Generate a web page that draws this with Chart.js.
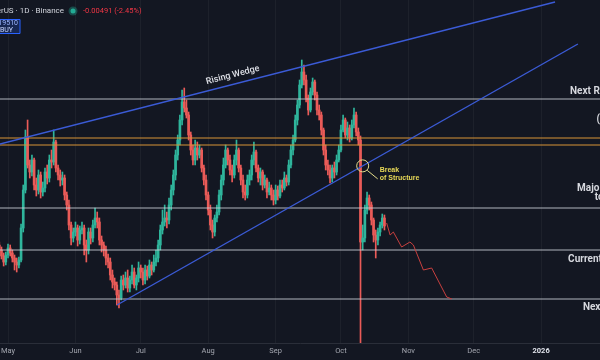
<!DOCTYPE html>
<html>

<head>
  <meta charset="utf-8" />
  <title>Dogecoin / TetherUS 1D</title>
  <script src="https://cdn.jsdelivr.net/npm/chart.js"></script>
  <style>
    html, body { margin: 0; padding: 0; background: #131722; }
  </style>
</head>

<body>
  <canvas id="chart" width="600" height="360"></canvas>

  <script type="text/javascript">

    // one candle per day, day 0 = 1 May 2025 (first candle is 27 Apr)
    var firstDay = -4;

    var opens = [
      0.155, 0.150, 0.144, 0.138, 0.145, 0.152, 0.147, 0.142, 0.138, 0.135,
      0.140, 0.172, 0.210, 0.263, 0.235, 0.228, 0.240, 0.215, 0.210, 0.225,
      0.208, 0.212, 0.228, 0.222, 0.240, 0.238, 0.258, 0.232, 0.225, 0.220,
      0.222, 0.205, 0.195, 0.175, 0.162, 0.168, 0.172, 0.160, 0.170, 0.172,
      0.155, 0.150, 0.168, 0.162, 0.175, 0.182, 0.178, 0.160, 0.155, 0.150,
      0.142, 0.138, 0.125, 0.118, 0.115, 0.105, 0.102, 0.120, 0.115, 0.122,
      0.112, 0.120, 0.128, 0.115, 0.122, 0.132, 0.128, 0.120, 0.130, 0.124,
      0.135, 0.130, 0.138, 0.142, 0.155, 0.170, 0.178, 0.182, 0.180, 0.195,
      0.210, 0.225, 0.245, 0.260, 0.280, 0.298, 0.292, 0.285, 0.265, 0.250,
      0.240, 0.252, 0.245, 0.250, 0.232, 0.220, 0.205, 0.190, 0.175, 0.168,
      0.182, 0.188, 0.205, 0.220, 0.235, 0.250, 0.240, 0.230, 0.225, 0.240,
      0.250, 0.232, 0.220, 0.208, 0.205, 0.220, 0.225, 0.240, 0.248, 0.232,
      0.222, 0.228, 0.215, 0.220, 0.208, 0.212, 0.205, 0.200, 0.210, 0.204,
      0.215, 0.212, 0.222, 0.218, 0.235, 0.250, 0.260, 0.280, 0.295, 0.315,
      0.328, 0.320, 0.302, 0.290, 0.308, 0.318, 0.305, 0.290, 0.285, 0.270,
      0.250, 0.235, 0.230, 0.222, 0.232, 0.228, 0.240, 0.250, 0.270, 0.280,
      0.265, 0.272, 0.262, 0.275, 0.285, 0.268, 0.260, 0.158, 0.162, 0.190,
      0.202, 0.195, 0.180, 0.165, 0.160, 0.168, 0.175, 0.182
    ];
    var highs = [
      0.158, 0.153, 0.147, 0.148, 0.156, 0.155, 0.150, 0.145, 0.142, 0.143,
      0.176, 0.215, 0.270, 0.280, 0.240, 0.245, 0.242, 0.222, 0.230, 0.228,
      0.218, 0.232, 0.235, 0.245, 0.250, 0.270, 0.260, 0.235, 0.230, 0.228,
      0.225, 0.208, 0.200, 0.178, 0.172, 0.178, 0.175, 0.174, 0.178, 0.175,
      0.160, 0.172, 0.172, 0.180, 0.192, 0.188, 0.182, 0.164, 0.158, 0.154,
      0.146, 0.142, 0.130, 0.122, 0.118, 0.110, 0.124, 0.125, 0.128, 0.130,
      0.124, 0.135, 0.132, 0.125, 0.138, 0.135, 0.132, 0.135, 0.134, 0.140,
      0.138, 0.145, 0.150, 0.160, 0.175, 0.190, 0.195, 0.188, 0.202, 0.215,
      0.230, 0.250, 0.265, 0.285, 0.310, 0.312, 0.300, 0.288, 0.268, 0.255,
      0.260, 0.258, 0.255, 0.252, 0.235, 0.225, 0.208, 0.195, 0.180, 0.185,
      0.195, 0.210, 0.225, 0.242, 0.255, 0.252, 0.245, 0.235, 0.245, 0.260,
      0.252, 0.235, 0.225, 0.215, 0.225, 0.230, 0.245, 0.258, 0.250, 0.235,
      0.232, 0.230, 0.225, 0.222, 0.218, 0.215, 0.210, 0.215, 0.214, 0.220,
      0.220, 0.228, 0.225, 0.240, 0.255, 0.265, 0.285, 0.300, 0.320, 0.340,
      0.335, 0.325, 0.305, 0.312, 0.322, 0.320, 0.308, 0.295, 0.288, 0.272,
      0.255, 0.240, 0.235, 0.235, 0.238, 0.245, 0.255, 0.275, 0.285, 0.282,
      0.278, 0.275, 0.280, 0.292, 0.288, 0.272, 0.264, 0.175, 0.195, 0.208,
      0.205, 0.198, 0.182, 0.170, 0.172, 0.178, 0.186, 0.185
    ];
    var lows = [
      0.146, 0.141, 0.134, 0.135, 0.142, 0.144, 0.138, 0.130, 0.128, 0.132,
      0.138, 0.168, 0.207, 0.232, 0.222, 0.224, 0.210, 0.204, 0.206, 0.202,
      0.204, 0.208, 0.216, 0.218, 0.232, 0.235, 0.228, 0.220, 0.214, 0.215,
      0.200, 0.190, 0.170, 0.155, 0.158, 0.164, 0.154, 0.156, 0.166, 0.145,
      0.138, 0.146, 0.156, 0.158, 0.172, 0.172, 0.155, 0.148, 0.144, 0.135,
      0.132, 0.120, 0.112, 0.110, 0.095, 0.092, 0.100, 0.110, 0.112, 0.108,
      0.108, 0.116, 0.112, 0.110, 0.118, 0.122, 0.115, 0.116, 0.120, 0.122,
      0.125, 0.128, 0.134, 0.138, 0.150, 0.166, 0.174, 0.172, 0.176, 0.190,
      0.205, 0.220, 0.240, 0.255, 0.275, 0.288, 0.282, 0.260, 0.245, 0.235,
      0.235, 0.240, 0.242, 0.228, 0.215, 0.200, 0.185, 0.170, 0.162, 0.164,
      0.178, 0.185, 0.200, 0.215, 0.232, 0.235, 0.225, 0.218, 0.222, 0.235,
      0.228, 0.215, 0.202, 0.200, 0.202, 0.215, 0.220, 0.235, 0.228, 0.218,
      0.215, 0.210, 0.212, 0.202, 0.205, 0.200, 0.195, 0.196, 0.200, 0.202,
      0.208, 0.210, 0.214, 0.215, 0.232, 0.245, 0.258, 0.275, 0.292, 0.312,
      0.315, 0.298, 0.285, 0.288, 0.305, 0.300, 0.285, 0.280, 0.265, 0.245,
      0.230, 0.225, 0.217, 0.218, 0.222, 0.225, 0.238, 0.248, 0.268, 0.262,
      0.260, 0.258, 0.260, 0.272, 0.264, 0.255, 0.030, 0.150, 0.158, 0.186,
      0.190, 0.175, 0.158, 0.142, 0.155, 0.164, 0.172, 0.170
    ];
    var closes = [
      0.150, 0.144, 0.138, 0.145, 0.152, 0.147, 0.142, 0.138, 0.135, 0.140,
      0.172, 0.210, 0.263, 0.235, 0.228, 0.240, 0.215, 0.210, 0.225, 0.208,
      0.212, 0.228, 0.222, 0.240, 0.238, 0.258, 0.232, 0.225, 0.220, 0.222,
      0.205, 0.195, 0.175, 0.162, 0.168, 0.172, 0.160, 0.170, 0.172, 0.155,
      0.150, 0.168, 0.162, 0.175, 0.182, 0.178, 0.160, 0.155, 0.150, 0.142,
      0.138, 0.125, 0.118, 0.115, 0.105, 0.102, 0.120, 0.115, 0.122, 0.112,
      0.120, 0.128, 0.115, 0.122, 0.132, 0.128, 0.120, 0.130, 0.124, 0.135,
      0.130, 0.138, 0.142, 0.155, 0.170, 0.178, 0.182, 0.180, 0.195, 0.210,
      0.225, 0.245, 0.260, 0.280, 0.298, 0.292, 0.285, 0.265, 0.250, 0.240,
      0.252, 0.245, 0.250, 0.232, 0.220, 0.205, 0.190, 0.175, 0.168, 0.182,
      0.188, 0.205, 0.220, 0.235, 0.250, 0.240, 0.230, 0.225, 0.240, 0.250,
      0.232, 0.220, 0.208, 0.205, 0.220, 0.225, 0.240, 0.248, 0.232, 0.222,
      0.228, 0.215, 0.220, 0.208, 0.212, 0.205, 0.200, 0.210, 0.204, 0.215,
      0.212, 0.222, 0.218, 0.235, 0.250, 0.260, 0.280, 0.295, 0.315, 0.328,
      0.320, 0.302, 0.290, 0.308, 0.318, 0.305, 0.290, 0.285, 0.270, 0.250,
      0.235, 0.230, 0.222, 0.232, 0.228, 0.240, 0.250, 0.270, 0.280, 0.265,
      0.272, 0.262, 0.275, 0.285, 0.268, 0.260, 0.158, 0.162, 0.190, 0.202,
      0.195, 0.180, 0.165, 0.160, 0.168, 0.175, 0.182, 0.174
    ];

    // time axis labels (day number of the 1st of each month)
    var monthDays = [0, 31, 61, 92, 123, 153, 184, 214, 245];
    var monthLabels = ['May', 'Jun', 'Jul', 'Aug', 'Sep', 'Oct', 'Nov', 'Dec', '2026'];

    // horizontal levels drawn on the chart
    var whiteLevels = [0.301, 0.192, 0.150, 0.101];
    var orangeLevels = [0.262, 0.255];

    // rising wedge trendlines [day, price]
    var upperWedge = [[-3.7, 0.256], [251.4, 0.398]];
    var lowerWedge = [[50.1, 0.095], [261.9, 0.356]];

    // projected path after the break
    var pathDays = [174, 175.6, 177.1, 180.9, 184.7, 186.3, 190.9, 194.7, 201.6, 204];
    var pathPrices = [0.177, 0.165, 0.168, 0.153, 0.158, 0.155, 0.130, 0.132, 0.103, 0.101];

    // notes on the right, clipped by the edge like on the screenshot
    var levelNotes = [
      { text: 'Next Resistance', day: 258.3, price: 0.309 },
      { text: '(Imbalance)', day: 270.4, price: 0.281 },
      { text: 'Major Support', day: 261.5, price: 0.212 },
      { text: 'to watch', day: 269.6, price: 0.203 },
      { text: 'Current Support', day: 257.4, price: 0.141 },
      { text: 'Next Support', day: 264.2, price: 0.093 }
    ];
    var breakDay = 163;

    var xMin = -3.68, xMax = 272.06;
    var yMin = 0.057, yMax = 0.400;

    var upColor = '#2fb59c';
    var downColor = '#ea5b58';

    var wicks = [], bodies = [], colors = [];
    for (var i = 0; i < closes.length; i++) {
      var d = firstDay + i;
      wicks.push({ x: d, y: [lows[i], highs[i]] });
      bodies.push({ x: d, y: [opens[i], closes[i]] });
      colors.push(closes[i] >= opens[i] ? upColor : downColor);
    }

    function lineSet(points, color, width, order) {
      return {
        type: 'line',
        data: points,
        borderColor: color,
        borderWidth: width,
        pointRadius: 0,
        fill: false,
        tension: 0,
        order: order
      };
    }

    var datasets = [
      { type: 'bar', data: wicks, backgroundColor: colors, barThickness: 1, grouped: false, order: 3 },
      { type: 'bar', data: bodies, backgroundColor: colors, barThickness: 2, minBarLength: 1, grouped: false, order: 2 }
    ];
    whiteLevels.forEach(function (p) {
      datasets.push(lineSet([{ x: xMin, y: p }, { x: xMax, y: p }], 'rgba(206,209,217,0.85)', 1, 1));
    });
    orangeLevels.forEach(function (p) {
      datasets.push(lineSet([{ x: xMin, y: p }, { x: xMax, y: p }], '#d99537', 1, 1));
    });
    datasets.push(lineSet(upperWedge.map(function (q) { return { x: q[0], y: q[1] }; }), '#3b5bd6', 1.4, 0));
    datasets.push(lineSet(lowerWedge.map(function (q) { return { x: q[0], y: q[1] }; }), '#3b5bd6', 1.4, 0));
    datasets.push(lineSet(pathDays.map(function (d, k) { return { x: d, y: pathPrices[k] }; }), '#c8403f', 1, 0));

    function priceOn(line, day) {
      var a = line[0], b = line[1];
      return a[1] + (b[1] - a[1]) * (day - a[0]) / (b[0] - a[0]);
    }

    var notes = {
      id: 'notes',
      beforeDraw: function (chart) {
        var ctx = chart.ctx;
        ctx.save();
        ctx.fillStyle = '#131722';
        ctx.fillRect(0, 0, chart.width, chart.height);
        ctx.restore();
      },
      afterDatasetsDraw: function (chart) {
        var ctx = chart.ctx;
        var xs = chart.scales.x, ys = chart.scales.y;
        ctx.save();

        // Rising Wedge label along the upper line
        var x0 = xs.getPixelForValue(upperWedge[0][0]), y0 = ys.getPixelForValue(upperWedge[0][1]);
        var x1 = xs.getPixelForValue(upperWedge[1][0]), y1 = ys.getPixelForValue(upperWedge[1][1]);
        var ang = Math.atan2(y1 - y0, x1 - x0);
        var wd = 104.3;
        ctx.save();
        ctx.translate(xs.getPixelForValue(wd), ys.getPixelForValue(priceOn(upperWedge, wd)));
        ctx.rotate(ang);
        ctx.fillStyle = '#dfe1e8';
        ctx.font = '500 9px Roboto';
        ctx.textAlign = 'center';
        ctx.textBaseline = 'middle';
        ctx.fillText('Rising Wedge', 0, -9);
        ctx.restore();

        // break of structure marker
        var cx = xs.getPixelForValue(breakDay), cy = ys.getPixelForValue(priceOn(lowerWedge, breakDay));
        ctx.strokeStyle = '#e4dc8a';
        ctx.lineWidth = 1;
        ctx.beginPath();
        ctx.arc(cx, cy, 6, 0, Math.PI * 2);
        ctx.stroke();
        ctx.beginPath();
        ctx.moveTo(cx + 4.5, cy + 4.5);
        ctx.lineTo(cx + 15, cy + 13);
        ctx.stroke();
        ctx.fillStyle = '#e8d957';
        ctx.font = 'bold 7px "Liberation Sans"';
        ctx.textAlign = 'left';
        ctx.textBaseline = 'middle';
        ctx.fillText('Break', cx + 17, cy + 4);
        ctx.fillText('of Structure', cx + 17, cy + 12.5);

        // level notes on the right
        ctx.fillStyle = '#d6d8de';
        ctx.font = 'bold 10px Roboto';
        levelNotes.forEach(function (n) {
          ctx.fillText(n.text, xs.getPixelForValue(n.day), ys.getPixelForValue(n.price));
        });

        // symbol header
        ctx.font = '8px Roboto';
        ctx.textAlign = 'right';
        ctx.fillStyle = '#d1d4dc';
        ctx.fillText('Dogecoin / TetherUS \u00b7 1D \u00b7 Binance', 64, 11);
        ctx.fillStyle = 'rgba(34,171,148,0.35)';
        ctx.beginPath();
        ctx.arc(73, 11, 4.5, 0, Math.PI * 2);
        ctx.fill();
        ctx.fillStyle = '#22ab94';
        ctx.beginPath();
        ctx.arc(73, 11, 2.5, 0, Math.PI * 2);
        ctx.fill();
        ctx.textAlign = 'left';
        ctx.fillStyle = '#f23645';
        ctx.font = '7.5px Roboto';
        ctx.fillText('-0.00491 (-2.45%)', 83, 11);

        // buy button, cut by the left edge
        ctx.fillStyle = 'rgba(41,98,255,0.22)';
        ctx.strokeStyle = '#2962ff';
        ctx.beginPath();
        ctx.rect(-6, 19.5, 26, 14);
        ctx.fill();
        ctx.stroke();
        ctx.font = '7px Roboto';
        ctx.textAlign = 'right';
        ctx.fillStyle = '#9db6ff';
        ctx.fillText('0.19510', 18, 23.5);
        ctx.fillStyle = '#c9d6ff';
        ctx.fillText('BUY', 13, 30);

        ctx.restore();
      }
    };

    Chart.defaults.font.family = 'Roboto';

    var chart = new Chart(document.getElementById('chart'), {
      type: 'bar',
      data: { datasets: datasets },
      options: {
        responsive: false,
        animation: false,
        layout: { padding: 0 },
        plugins: {
          legend: { display: false },
          tooltip: { enabled: false }
        },
        scales: {
          x: {
            type: 'linear',
            min: xMin,
            max: xMax,
            offset: false,
            afterBuildTicks: function (scale) {
              scale.ticks = monthDays.map(function (v) { return { value: v }; });
            },
            afterFit: function (scale) {
              // time axis strip is 17px tall, plot runs edge to edge
              scale.paddingLeft = 0;
              scale.paddingRight = 0;
              scale.height = 17;
            },
            ticks: {
              autoSkip: false,
              maxRotation: 0,
              padding: 4,
              color: function (c) { return c.tick && c.tick.value === 245 ? '#e0e3eb' : '#a3a6af'; },
              font: function (c) {
                return { size: 7.5, weight: c.tick && c.tick.value === 245 ? 'bold' : 'normal' };
              },
              callback: function (v) { return monthLabels[monthDays.indexOf(v)]; }
            },
            grid: { color: 'rgba(255,255,255,0.045)', drawTicks: false, offset: false },
            border: { color: '#2a2e39' }
          },
          y: {
            display: false,
            min: yMin,
            max: yMax
          }
        }
      },
      plugins: [notes]
    });
  </script>
</body>

</html>
